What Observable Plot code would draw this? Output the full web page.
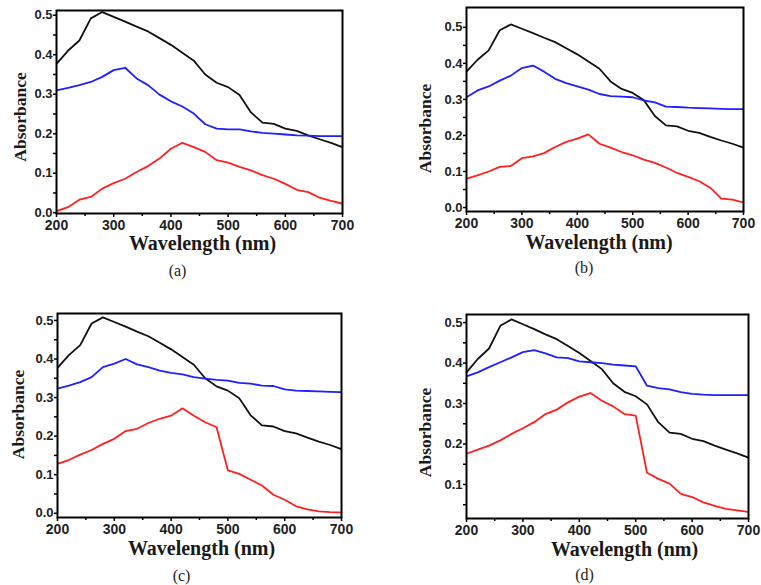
<!DOCTYPE html>
<html>
<head>
<meta charset="utf-8">
<script src="https://cdn.jsdelivr.net/npm/d3@7"></script>
<script src="https://cdn.jsdelivr.net/npm/@observablehq/plot@0.6"></script>
<style>
  html, body { margin: 0; padding: 0; background: #fff; }
  #root { position: relative; width: 761px; height: 585px; overflow: hidden; background: #fff; }
  .panel { position: absolute; }
</style>
</head>
<body>
<div id="root"></div>
<script>
// Wavelength samples (nm)
const wavelengths = [200, 220, 240, 260, 280, 300, 320, 340, 360, 380, 400, 420, 440, 460, 480, 500, 520, 540, 560, 580, 600, 620, 640, 660, 680, 700];

// Black curve (same in all panels)
const blackCurve = [0.377, 0.41, 0.436, 0.492, 0.508, 0.496, 0.484, 0.471, 0.459, 0.442, 0.425, 0.405, 0.385, 0.35, 0.329, 0.318, 0.298, 0.254, 0.228, 0.225, 0.213, 0.207, 0.196, 0.186, 0.177, 0.166];

const blueA = [0.31, 0.316, 0.323, 0.331, 0.344, 0.361, 0.367, 0.34, 0.323, 0.299, 0.282, 0.269, 0.251, 0.224, 0.213, 0.211, 0.211, 0.206, 0.202, 0.2, 0.198, 0.196, 0.195, 0.194, 0.194, 0.194];
const redA = [0.004, 0.014, 0.033, 0.04, 0.061, 0.075, 0.086, 0.103, 0.118, 0.137, 0.162, 0.177, 0.166, 0.154, 0.133, 0.127, 0.116, 0.107, 0.095, 0.086, 0.073, 0.058, 0.052, 0.038, 0.03, 0.023];

const blueB = [0.306, 0.325, 0.336, 0.352, 0.366, 0.387, 0.394, 0.377, 0.357, 0.345, 0.336, 0.327, 0.315, 0.309, 0.308, 0.306, 0.297, 0.292, 0.28, 0.279, 0.277, 0.276, 0.275, 0.274, 0.273, 0.273];
const redB = [0.08, 0.089, 0.1, 0.113, 0.115, 0.137, 0.142, 0.151, 0.168, 0.182, 0.191, 0.203, 0.177, 0.166, 0.154, 0.145, 0.133, 0.124, 0.111, 0.096, 0.085, 0.073, 0.055, 0.025, 0.022, 0.014];

const blueC = [0.323, 0.331, 0.34, 0.353, 0.379, 0.388, 0.4, 0.386, 0.379, 0.37, 0.364, 0.36, 0.353, 0.349, 0.346, 0.344, 0.338, 0.336, 0.331, 0.33, 0.321, 0.318, 0.317, 0.316, 0.315, 0.314];
const redC = [0.128, 0.138, 0.152, 0.164, 0.18, 0.193, 0.213, 0.219, 0.234, 0.245, 0.253, 0.272, 0.253, 0.236, 0.223, 0.111, 0.102, 0.087, 0.072, 0.048, 0.035, 0.018, 0.01, 0.005, 0.003, 0.002];

const blueD = [0.367, 0.377, 0.39, 0.402, 0.414, 0.427, 0.432, 0.424, 0.414, 0.412, 0.404, 0.402, 0.4, 0.396, 0.394, 0.392, 0.344, 0.338, 0.335, 0.328, 0.324, 0.322, 0.321, 0.321, 0.321, 0.321];
const redD = [0.176, 0.186, 0.196, 0.209, 0.225, 0.239, 0.254, 0.274, 0.285, 0.303, 0.317, 0.326, 0.307, 0.293, 0.274, 0.27, 0.129, 0.114, 0.102, 0.077, 0.069, 0.056, 0.047, 0.04, 0.036, 0.032];

// Tick labels
const xTicks = [200, 300, 400, 500, 600, 700];
const xMinor = [250, 350, 450, 550, 650];
const yTicksFull = [0, 0.1, 0.2, 0.3, 0.4, 0.5];
const yTicksD = [0.1, 0.2, 0.3, 0.4, 0.5];
const yMinor = [0.05, 0.15, 0.25, 0.35, 0.45];

const xTitle = "Wavelength (nm)";
const yTitle = "Absorbance";
const panelLabels = ["(a)", "(b)", "(c)", "(d)"];

const colors = {black: "#111111", blue: "#1f1fff", red: "#ff2020"};

const panels = [
  {label: panelLabels[0], blue: blueA, red: redA, left: 0, top: 0, w: 380, h: 290,
   margin: [10, 38, 77, 56], ydom: [-0.002, 0.512], yTicks: yTicksFull,
   xt: {dx: 3, dy: 30}, lab: {dx: -22, dy: 57}, yt: {dx: -36, dy: 5}},
  {label: panelLabels[1], blue: blueB, red: redB, left: 380, top: 0, w: 381, h: 290,
   margin: [7, 18, 79, 86], ydom: [-0.011, 0.555], yTicks: yTicksFull,
   xt: {dx: -6, dy: 31}, lab: {dx: -21, dy: 56}, yt: {dx: -41, dy: 19}},
  {label: panelLabels[2], blue: blueC, red: redC, left: 0, top: 300, w: 380, h: 285,
   margin: [13, 39, 68, 57], ydom: [-0.011, 0.518], yTicks: yTicksFull,
   xt: {dx: 2, dy: 31}, lab: {dx: -18, dy: 58}, yt: {dx: -39, dy: -1}},
  {label: panelLabels[3], blue: blueD, red: redD, left: 380, top: 300, w: 381, h: 285,
   margin: [14, 13, 67, 86], ydom: [0.016, 0.52], yTicks: yTicksD,
   xt: {dx: 17, dy: 31}, lab: {dx: -23, dy: 56}, yt: {dx: -41, dy: 16}}
];

const root = document.getElementById("root");
const tickFont = "Liberation Sans";
const serif = "Liberation Serif";

for (const p of panels) {
  const fmt = d3.format(".1f");
  const xOf = (d, i) => wavelengths[i];
  const chart = Plot.plot({
    width: p.w,
    height: p.h,
    marginTop: p.margin[0],
    marginRight: p.margin[1],
    marginBottom: p.margin[2],
    marginLeft: p.margin[3],
    style: {background: "transparent", overflow: "visible"},
    x: {domain: [200, 700], label: null},
    y: {domain: p.ydom, label: null},
    marks: [
      Plot.line(blackCurve, {x: xOf, y: d => d, stroke: colors.black, strokeWidth: 1.8, clip: true}),
      Plot.line(p.blue, {x: xOf, y: d => d, stroke: colors.blue, strokeWidth: 1.8, clip: true}),
      Plot.line(p.red, {x: xOf, y: d => d, stroke: colors.red, strokeWidth: 1.8, clip: true}),
      Plot.axisX({ticks: xTicks, tickSize: 4, tickPadding: 3, tickFormat: d => String(d), label: null,
        fontSize: 14, fontWeight: "bold", fontFamily: tickFont, fill: "#222", strokeWidth: 1.5}),
      Plot.axisX({ticks: xMinor, tickSize: 3, tickFormat: () => "", label: null, strokeWidth: 1.5}),
      Plot.axisY({ticks: p.yTicks, tickSize: 3, tickPadding: 1, tickFormat: fmt, label: null,
        fontSize: 13, fontWeight: "bold", fontFamily: tickFont, fill: "#222", strokeWidth: 1.5}),
      Plot.axisY({ticks: yMinor, tickSize: 3, tickFormat: () => "", label: null, strokeWidth: 1.5}),
      Plot.frame({stroke: "#000", strokeWidth: 2}),
      Plot.text([xTitle], {frameAnchor: "bottom", text: d => d, dx: p.xt.dx, dy: p.xt.dy,
        textAnchor: "middle", lineAnchor: "middle",
        fontSize: 20, fontWeight: "bold", fontFamily: serif, fill: "#1a1a1a"}),
      Plot.text([yTitle], {frameAnchor: "left", text: d => d, rotate: -90, dx: p.yt.dx, dy: p.yt.dy,
        textAnchor: "middle", lineAnchor: "middle",
        fontSize: 17.5, fontWeight: "bold", fontFamily: serif, fill: "#1a1a1a"}),
      Plot.text([p.label], {frameAnchor: "bottom", text: d => d, dx: p.lab.dx, dy: p.lab.dy,
        textAnchor: "middle", lineAnchor: "middle",
        fontSize: 16, fontFamily: serif, fill: "#222"})
    ]
  });
  chart.classList.add("panel");
  chart.style.left = p.left + "px";
  chart.style.top = p.top + "px";
  root.appendChild(chart);
}
</script>
</body>
</html>
